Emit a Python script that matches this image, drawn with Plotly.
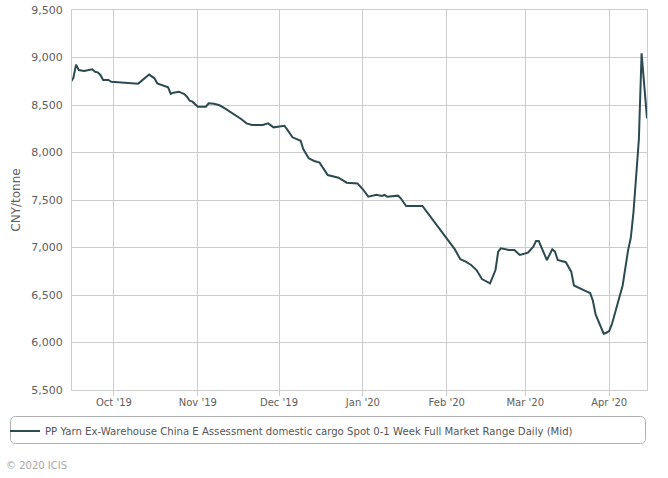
import plotly.graph_objects as go

dates = [
    "2019-09-15", "2019-09-16", "2019-09-17", "2019-09-18", "2019-09-20", "2019-09-23",
    "2019-09-24", "2019-09-25", "2019-09-26", "2019-09-27", "2019-09-29", "2019-09-30",
    "2019-10-05", "2019-10-10", "2019-10-14", "2019-10-16", "2019-10-17", "2019-10-19",
    "2019-10-21", "2019-10-22", "2019-10-23", "2019-10-25", "2019-10-27", "2019-10-28",
    "2019-10-29", "2019-10-30", "2019-11-01", "2019-11-04", "2019-11-05", "2019-11-07",
    "2019-11-09", "2019-11-11", "2019-11-14", "2019-11-17", "2019-11-19", "2019-11-21",
    "2019-11-25", "2019-11-27", "2019-11-29", "2019-12-03", "2019-12-04", "2019-12-06",
    "2019-12-09", "2019-12-10", "2019-12-12", "2019-12-14", "2019-12-16", "2019-12-18",
    "2019-12-19", "2019-12-23", "2019-12-26", "2019-12-30", "2020-01-01", "2020-01-03",
    "2020-01-05", "2020-01-06", "2020-01-08", "2020-01-09", "2020-01-10", "2020-01-14",
    "2020-01-15", "2020-01-17", "2020-01-23", "2020-02-04", "2020-02-06", "2020-02-08",
    "2020-02-10", "2020-02-12", "2020-02-14", "2020-02-17", "2020-02-19", "2020-02-20",
    "2020-02-21", "2020-02-24", "2020-02-26", "2020-02-28", "2020-03-02", "2020-03-04",
    "2020-03-05", "2020-03-06", "2020-03-09", "2020-03-11", "2020-03-12", "2020-03-13",
    "2020-03-16", "2020-03-18", "2020-03-19", "2020-03-22", "2020-03-23", "2020-03-25",
    "2020-03-26", "2020-03-27", "2020-03-30", "2020-03-31", "2020-04-01", "2020-04-02",
    "2020-04-03", "2020-04-06", "2020-04-08", "2020-04-09", "2020-04-10", "2020-04-12",
    "2020-04-13", "2020-04-15",
]

prices = [
    8740, 8785, 8925, 8868, 8858, 8876,
    8850, 8844, 8816, 8763, 8763, 8745,
    8735, 8725, 8820, 8781, 8728, 8710,
    8686, 8616, 8630, 8640, 8616, 8587,
    8545, 8535, 8482, 8482, 8518, 8514,
    8497, 8465, 8413, 8353, 8307, 8289,
    8289, 8307, 8265, 8282, 8244, 8160,
    8124, 8034, 7939, 7911, 7893, 7805,
    7763, 7735, 7682, 7675, 7613, 7535,
    7553, 7556, 7542, 7553, 7535, 7546,
    7518, 7437, 7437, 6980, 6876, 6851,
    6816, 6763, 6668, 6623, 6763, 6956,
    6991, 6974, 6974, 6921, 6945, 7009,
    7068, 7068, 6868, 6981, 6956, 6868,
    6845, 6746, 6600, 6565, 6546, 6520,
    6440, 6295, 6093, 6103, 6121, 6190,
    6300, 6600, 6970, 7100, 7370, 8140,
    9044, 8360,
]

series_name = ("PP Yarn Ex-Warehouse China E Assessment domestic cargo Spot 0-1 Week "
               "Full Market Range Daily (Mid)")
y_title = "CNY/tonne"
copyright_text = "© 2020 ICIS"
x_range = ["2019-09-15 12:00", "2020-04-15 00:00"]
y_range = [5500, 9500]

FONT = "DejaVu Sans"
W, H = 668, 478
L, R, T, B = 72, 21, 10, 88
pw, ph = W - L - R, H - T - B


def px_to_paper_x(px):
    return (px - L) / pw


def px_to_paper_y(py):
    return (H - B - py) / ph


fig = go.Figure()
fig.add_trace(go.Scatter(
    x=dates, y=prices, mode="lines", name=series_name,
    line=dict(color="#2c4a51", width=2),
    showlegend=True,
))

# rounded legend box
x0, x1 = px_to_paper_x(10.5), px_to_paper_x(645.5)
y0, y1 = px_to_paper_y(443.5), px_to_paper_y(416.5)
rx = 5 / pw
ry = 5 / ph
path = (f"M {x0+rx},{y1} L {x1-rx},{y1} Q {x1},{y1} {x1},{y1-ry} "
        f"L {x1},{y0+ry} Q {x1},{y0} {x1-rx},{y0} L {x0+rx},{y0} "
        f"Q {x0},{y0} {x0},{y0+ry} L {x0},{y1-ry} Q {x0},{y1} {x0+rx},{y1} Z")
fig.add_shape(type="path", path=path, xref="paper", yref="paper",
              line=dict(color="#b0b0b0", width=1), fillcolor="rgba(0,0,0,0)")

fig.add_annotation(text=copyright_text, xref="paper", yref="paper",
                   x=px_to_paper_x(4), y=px_to_paper_y(465), xanchor="left",
                   yanchor="middle", showarrow=False,
                   font=dict(family=FONT, size=10, color="#a8a8a8"))

fig.update_layout(
    width=W, height=H,
    margin=dict(l=L, r=R, t=T, b=B, autoexpand=False),
    paper_bgcolor="white", plot_bgcolor="white",
    font=dict(family=FONT, color="#606060"),
    showlegend=True,
    legend=dict(
        orientation="h", x=px_to_paper_x(5), xanchor="left",
        y=px_to_paper_y(431), yanchor="middle",
        bgcolor="rgba(0,0,0,0)", borderwidth=0,
        font=dict(family=FONT, size=10.15, color="#555555"),
    ),
    xaxis=dict(
        range=x_range, type="date",
        tick0="2019-10-01", dtick="M1", tickformat="%b '%y",
        showgrid=True, gridcolor="#cccccc", gridwidth=1,
        showline=True, linecolor="#cccccc", linewidth=1, mirror=True,
        ticks="outside", ticklen=5, tickcolor="#cccccc",
        ticklabelstandoff=-2,
        tickfont=dict(family=FONT, size=10, color="#606060"),
        zeroline=False,
    ),
    yaxis=dict(
        range=y_range, dtick=500, tickformat=",",
        showgrid=True, gridcolor="#cccccc", gridwidth=1,
        showline=True, linecolor="#cccccc", linewidth=1, mirror=True,
        ticks="", ticklabelstandoff=6,
        tickfont=dict(family=FONT, size=11, color="#606060"),
        title=dict(text=y_title, font=dict(family=FONT, size=12, color="#606060"),
                   standoff=8),
        zeroline=False,
    ),
)

fig.write_html("out.html")
